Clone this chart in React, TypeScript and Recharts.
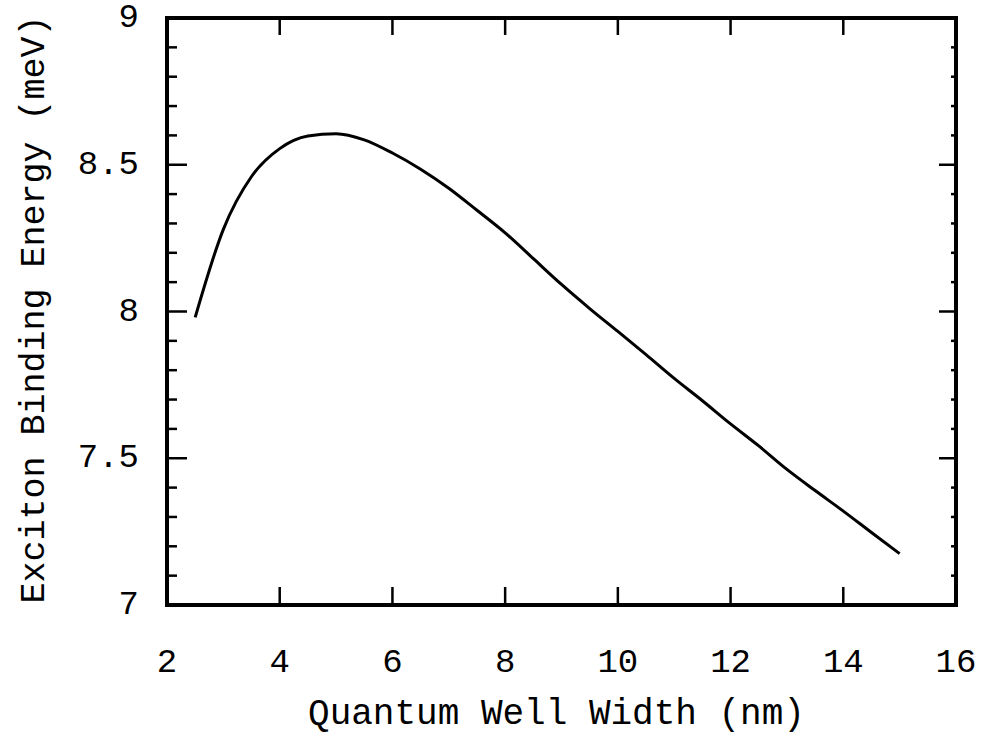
import React from 'react';
import { LineChart, Line, XAxis, YAxis, ReferenceArea } from 'recharts';

const wellWidth = [2.5, 3, 3.5, 4, 4.5, 5, 5.5, 6, 6.5, 7, 7.5, 8, 8.5, 9, 9.5, 10, 10.5, 11, 11.5, 12, 12.5, 13, 13.5, 14, 14.5, 15];
const bindingEnergy = [7.98, 8.28, 8.46, 8.555, 8.598, 8.606, 8.585, 8.54, 8.485, 8.42, 8.345, 8.268, 8.18, 8.092, 8.01, 7.932, 7.853, 7.772, 7.696, 7.617, 7.542, 7.462, 7.39, 7.32, 7.247, 7.175];

const xTicks = [2, 4, 6, 8, 10, 12, 14, 16];
const xTickLabels = ['2', '4', '6', '8', '10', '12', '14', '16'];
const yTicks = [7, 7.1, 7.2, 7.3, 7.4, 7.5, 7.6, 7.7, 7.8, 7.9, 8, 8.1, 8.2, 8.3, 8.4, 8.5, 8.6, 8.7, 8.8, 8.9, 9];
const yMajorTicks = [7, 7.5, 8, 8.5, 9];
const yTickLabels = ['7', '7.5', '8', '8.5', '9'];

const xTitle = 'Quantum Well Width (nm)';
const yTitle = 'Exciton Binding Energy (meV)';

const data = wellWidth.map((w, i) => ({ w, e: bindingEnergy[i] }));

const FONT = "'Liberation Mono', 'DejaVu Sans Mono', monospace";
const INK = '#000';

const majorIndex = (v: number) => yMajorTicks.findIndex((m) => Math.abs(m - v) < 1e-6);

const LeftTick = (props: any) => {
  const { x, y, payload } = props;
  const idx = majorIndex(payload.value);
  const major = idx >= 0;
  return (
    <g>
      <line x1={x} x2={x + (major ? 20 : 10)} y1={y} y2={y} stroke={INK} strokeWidth={2.5} />
      {major && (
        <text x={x - 28} y={y} textAnchor="end" dominantBaseline="central" fontFamily={FONT} fontSize={34} fill={INK}>
          {yTickLabels[idx]}
        </text>
      )}
    </g>
  );
};

const RightTick = (props: any) => {
  const { x, y, payload } = props;
  const major = majorIndex(payload.value) >= 0;
  return <line x1={x} x2={x - (major ? 17 : 5)} y1={y} y2={y} stroke={INK} strokeWidth={2.5} />;
};

const BottomTick = (props: any) => {
  const { x, y, payload } = props;
  const idx = xTicks.findIndex((t) => Math.abs(t - payload.value) < 1e-6);
  return (
    <g>
      <line x1={x} x2={x} y1={y} y2={y - 18} stroke={INK} strokeWidth={2.5} />
      <text x={x} y={y + 58} textAnchor="middle" dominantBaseline="central" fontFamily={FONT} fontSize={34} fill={INK}>
        {idx >= 0 ? xTickLabels[idx] : ''}
      </text>
    </g>
  );
};

const TopTick = (props: any) => {
  const { x, y } = props;
  return <line x1={x} x2={x} y1={y} y2={y + 17} stroke={INK} strokeWidth={2.5} />;
};

const XTitle = (props: any) => {
  const vb = props.viewBox || { x: 167, y: 605, width: 789, height: 140 };
  return (
    <text x={vb.x + vb.width / 2 - 5} y={vb.y + 109} textAnchor="middle" dominantBaseline="central" fontFamily={FONT} fontSize={36} fill={INK}>
      {xTitle}
    </text>
  );
};

const YTitle = (props: any) => {
  const vb = props.viewBox || { x: 0, y: 18, width: 167, height: 587 };
  const cy = vb.y + vb.height / 2 - 2;
  return (
    <text transform={`translate(35, ${cy}) rotate(-90)`} textAnchor="middle" dominantBaseline="central" fontFamily={FONT} fontSize={35} fill={INK}>
      {yTitle}
    </text>
  );
};

export default function App() {
  return (
    <div style={{ position: 'absolute', left: 0, top: 0, width: 981, height: 745, background: '#fff' }}>
      <LineChart width={981} height={745} data={data} margin={{ top: 0, right: 0, bottom: 0, left: 0 }}>
        <XAxis
          xAxisId="bottom"
          orientation="bottom"
          type="number"
          dataKey="w"
          domain={[2, 16]}
          ticks={xTicks}
          interval={0}
          height={140}
          tickSize={0}
          tickMargin={0}
          axisLine={false}
          tickLine={false}
          tick={<BottomTick />}
          label={<XTitle />}
          allowDataOverflow
        />
        <XAxis
          xAxisId="top"
          orientation="top"
          type="number"
          dataKey="w"
          domain={[2, 16]}
          ticks={xTicks}
          interval={0}
          height={18}
          tickSize={0}
          tickMargin={0}
          axisLine={false}
          tickLine={false}
          tick={<TopTick />}
          allowDataOverflow
        />
        <YAxis
          yAxisId="left"
          orientation="left"
          type="number"
          domain={[7, 9]}
          ticks={yTicks}
          interval={0}
          width={167}
          tickSize={0}
          tickMargin={0}
          axisLine={false}
          tickLine={false}
          tick={<LeftTick />}
          label={<YTitle />}
          allowDataOverflow
        />
        <YAxis
          yAxisId="right"
          orientation="right"
          type="number"
          domain={[7, 9]}
          ticks={yTicks}
          interval={0}
          width={25}
          tickSize={0}
          tickMargin={0}
          axisLine={false}
          tickLine={false}
          tick={<RightTick />}
          allowDataOverflow
        />
        <ReferenceArea xAxisId="bottom" yAxisId="left" x1={2} x2={16} y1={7} y2={9} fill="none" stroke={INK} strokeWidth={4} ifOverflow="visible" />
        <Line
          xAxisId="bottom"
          yAxisId="left"
          type="monotone"
          dataKey="e"
          stroke={INK}
          strokeWidth={3}
          dot={false}
          activeDot={false}
          isAnimationActive={false}
        />
      </LineChart>
    </div>
  );
}
